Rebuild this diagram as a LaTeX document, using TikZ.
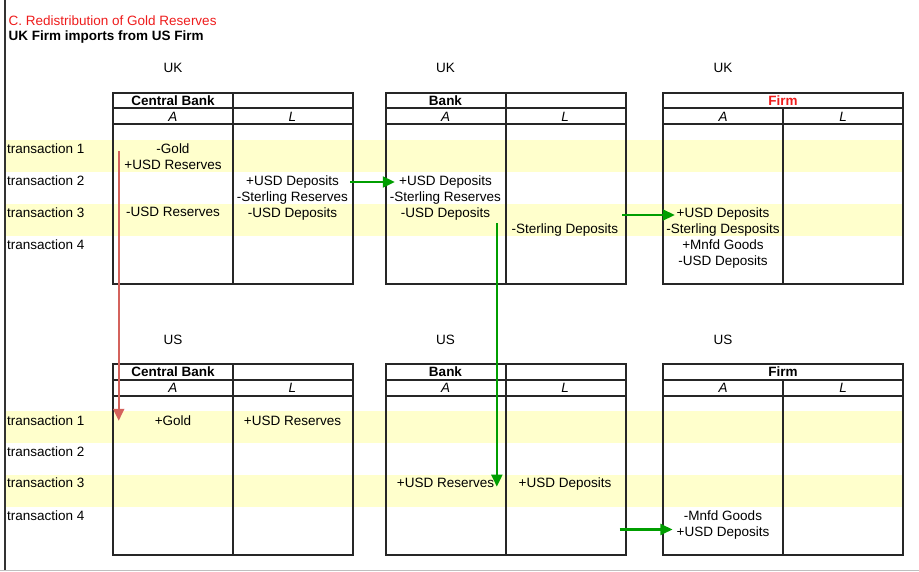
\documentclass[tikz,border=0pt]{standalone}
\usepackage{fontspec}
\setmainfont{Liberation Sans}
\usetikzlibrary{arrows.meta,calc}
\definecolor{band}{HTML}{FFFFCC}
\definecolor{flowgreen}{HTML}{009E00}
\definecolor{goldred}{HTML}{D4625C}
\definecolor{titlered}{HTML}{EE1C1C}
\begin{document}
\begin{tikzpicture}[x=1pt,y=-1pt,
    every node/.style={inner sep=0pt,font=\fontsize{13.5}{16}\selectfont},
    cell/.style={anchor=north,align=center},
    rowlabel/.style={anchor=base west},
    head/.style={font=\fontsize{13.5}{16}\selectfont\bfseries},
    col/.style={font=\fontsize{13.5}{16}\selectfont\itshape},
    grid/.style={line width=1.2pt,black!85},
    flow/.style={-{Triangle[length=12pt,width=11pt]},line width=2.2pt,flowgreen},
    goldflow/.style={-{Triangle[length=12pt,width=11pt]},line width=2.2pt,goldred}]
\useasboundingbox (0,0) rectangle (919,571);
% Yellow bands (transactions 1 and 3)
\fill[band] (6,140) rectangle (903,172);
\fill[band] (6,204) rectangle (903,236);
\fill[band] (6,411) rectangle (903,443);
\fill[band] (6,475) rectangle (903,507);
% Frame
\draw[black!80,line width=1.5pt] (5,0) -- (5,570);
\draw[black!25,line width=1pt] (0,570.5) -- (919,570.5);
% Titles
\node[anchor=base west,text=titlered] (title) at (8.5,25) {C. Redistribution of Gold Reserves};
\node[head,anchor=base west] (subtitle) at (8.5,40.7) {UK Firm imports from US Firm};
% Balance sheets
\foreach \x in {113,386,663} {
    \draw[grid] (\x,93) rectangle ++(240,191);
    \draw[grid] (\x,108) -- ++(240,0) (\x,124) -- ++(240,0) (\x+120,108) -- (\x+120,284);
    \draw[grid] (\x,364) rectangle ++(240,191);
    \draw[grid] (\x,380) -- ++(240,0) (\x,396) -- ++(240,0) (\x+120,380) -- (\x+120,555);
}
\foreach \x in {233,506} \draw[grid] (\x,93) -- (\x,108) (\x,364) -- (\x,380);
% UK headings
\node (ukcbc) at (173,68.3) {UK};
\node (ukbc) at (445.5,68.3) {UK};
\node (ukfc) at (723,68.3) {UK};
\node[head] (ukcb) at (173,100.5) {Central Bank};
\node[head] (ukb) at (445.5,100.5) {Bank};
\node[head,text=titlered] (ukf) at (783,100.5) {Firm};
\node[col] (ukcbA) at (173,117) {A};
\node[col] (ukcbL) at (292.5,117) {L};
\node[col] (ukbA) at (445.5,117) {A};
\node[col] (ukbL) at (565,117) {L};
\node[col] (ukfA) at (723,117) {A};
\node[col] (ukfL) at (843,117) {L};
% US headings
\node (uscbc) at (173,339.5) {US};
\node (usbc) at (445.5,339.5) {US};
\node (usfc) at (723,339.5) {US};
\node[head] (uscb) at (173,372) {Central Bank};
\node[head] (usb) at (445.5,372) {Bank};
\node[head] (usf) at (783,372) {Firm};
\node[col] (uscbA) at (173,388.3) {A};
\node[col] (uscbL) at (292.5,388.3) {L};
\node[col] (usbA) at (445.5,388.3) {A};
\node[col] (usbL) at (565,388.3) {L};
\node[col] (usfA) at (723,388.3) {A};
\node[col] (usfL) at (843,388.3) {L};
% Transaction labels
\node[rowlabel] (ukt1) at (7,153) {transaction 1};
\node[rowlabel] (ukt2) at (7,185) {transaction 2};
\node[rowlabel] (ukt3) at (7,217) {transaction 3};
\node[rowlabel] (ukt4) at (7,249) {transaction 4};
\node[rowlabel] (ust1) at (7,425.3) {transaction 1};
\node[rowlabel] (ust2) at (7,456) {transaction 2};
\node[rowlabel] (ust3) at (7,487.7) {transaction 3};
\node[rowlabel] (ust4) at (7,520) {transaction 4};
% UK entries
\node[cell] (ukcbA1) at (173,143.3) {-Gold\\+USD Reserves};
\node[cell] (ukcbA3) at (173,207.3) {-USD Reserves};
\node[cell] (ukcbL2) at (292.5,175.3) {+USD Deposits\\-Sterling Reserves};
\node[cell] (ukcbL3) at (292.5,207.3) {-USD Deposits};
\node[cell] (ukbA2) at (445.5,175.3) {+USD Deposits\\-Sterling Reserves};
\node[cell] (ukbA3) at (445.5,207.3) {-USD Deposits};
\node[cell] (ukbL3) at (565,223.3) {-Sterling Deposits};
\node[cell] (ukfA3) at (723,207.3) {+USD Deposits\\-Sterling Desposits};
\node[cell] (ukfA4) at (723,239.3) {+Mnfd Goods\\-USD Deposits};
% US entries
\node[cell] (uscbA1) at (173,415.6) {+Gold};
\node[cell] (uscbL1) at (292.5,415.6) {+USD Reserves};
\node[cell] (usbA3) at (445.5,478) {+USD Reserves};
\node[cell] (usbL3) at (565,478) {+USD Deposits};
\node[cell] (usfA4) at (723,510.3) {-Mnfd Goods\\+USD Deposits};
% Flows
\coordinate (goldout) at ($(ukcbA1.north west)+(-5.5,7.7)$);
\draw[goldflow] (goldout) -- (goldout |- uscbA1.center);
\coordinate (cbdep) at ($(ukcbL2.north east)+(2,6.7)$);
\draw[flow] (cbdep) -- ([xshift=5pt]cbdep -| ukbA2.west);
\coordinate (bkres) at ($(ukbA3.south east)+(6.5,3)$);
\draw[flow] (bkres) -- ([yshift=1pt]bkres |- usbA3.base);
\coordinate (fxin) at ($(ukfA3.north west)+(8.6,7.7)$);
\draw[flow] ([xshift=4pt]fxin -| ukbL3.east) -- (fxin);
\coordinate (usgin) at ($(usfA4.west)+(-4,4.7)$);
\draw[flow] ([xshift=8pt]usgin -| usbL3.east) -- (usgin);
\end{tikzpicture}
\end{document}
